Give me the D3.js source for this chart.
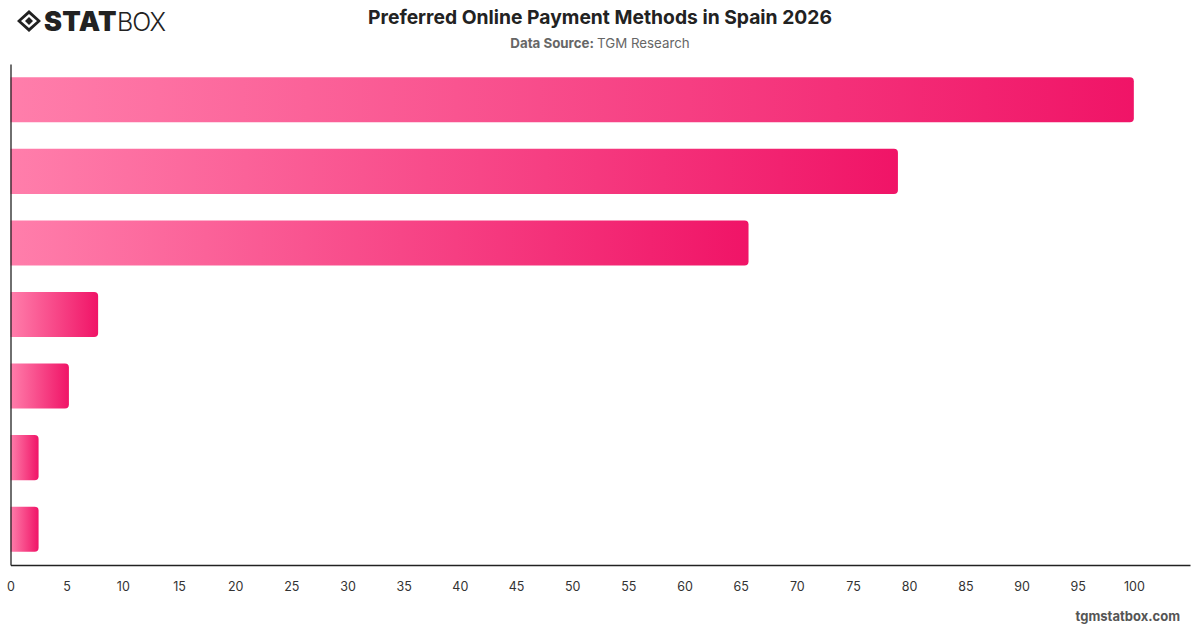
<!DOCTYPE html>
<html><head><meta charset="utf-8">
<script src="https://cdn.jsdelivr.net/npm/d3@7"></script>
<style>body{margin:0;background:#fff;font-family:Inter,"Noto Sans",sans-serif}</style>
</head><body>
<svg id="c" width="1200" height="628"></svg>
<script>
const categories = ["Digital wallets","Credit/debit cards","Bank transfer","Buy now, pay later","Cash on delivery","Prepaid cards","Other"];
const values = [100, 79, 65.7, 7.8, 5.2, 2.5, 2.5];
const xTicks = d3.range(0, 101, 5);

const svg = d3.select("#c");
const m = {left: 10.5, right: 1190, top: 64, bottom: 565};
const x = d3.scaleLinear().domain([0, 105]).range([m.left, m.right]);
const y = d3.scaleBand().domain(categories).range([m.top, m.bottom]).paddingInner(0.37).paddingOuter(0.185);

const defs = svg.append("defs");
const g = defs.append("linearGradient").attr("id","grad").attr("x1","0").attr("x2","1").attr("y1","0").attr("y2","0");
g.append("stop").attr("offset","0").attr("stop-color","#ff7eab");
g.append("stop").attr("offset","1").attr("stop-color","#f01467");

// logo
const logo = svg.append("g").attr("transform","translate(17,10)");
logo.append("path").attr("d","M12,0 L24,11 L12,22 L0,11 Z M12,4 L20,11 L12,18 L4,11 Z").attr("fill","#222").attr("fill-rule","evenodd");
logo.append("path").attr("d","M12,7 L16,11 L12,15 L8,11 Z").attr("fill","#222");
logo.append("text").attr("x",27).attr("y",21).attr("font-size",27).attr("font-weight",900).attr("fill","#222").attr("font-family","Inter,sans-serif").attr("letter-spacing","0.3").text("STAT");
logo.append("text").attr("x",100).attr("y",21).attr("font-size",25).attr("font-weight",300).attr("fill","#222").attr("font-family","Inter,sans-serif").attr("letter-spacing","-1").text("BOX");

svg.append("text").attr("x",600).attr("y",24).attr("text-anchor","middle").attr("font-size",19.3).attr("font-weight",700).attr("fill","#222").text("Preferred Online Payment Methods in Spain 2026");
const sub = svg.append("text").attr("x",600).attr("y",48).attr("text-anchor","middle").attr("font-size",13.3).attr("fill","#666");
sub.append("tspan").attr("font-weight",700).text("Data Source: ");
sub.append("tspan").text("TGM Research");

// bars
function barPath(x0, x1, y0, h, r){
  r = Math.min(r, (x1-x0)/2);
  return `M${x0},${y0} H${x1-r} Q${x1},${y0} ${x1},${y0+r} V${y0+h-r} Q${x1},${y0+h} ${x1-r},${y0+h} H${x0} Z`;
}
svg.append("g").selectAll("path").data(values).join("path")
  .attr("d",(d,i)=>barPath(x(0), x(d), y(categories[i]), y.bandwidth(), 4))
  .attr("fill","url(#grad)");

// axes
const xa = svg.append("g").attr("transform",`translate(0,${m.bottom})`)
  .call(d3.axisBottom(x).tickValues(xTicks).tickSize(0).tickPadding(17));
xa.select(".domain").attr("stroke","#222").attr("stroke-width",1.3);
xa.selectAll("text").attr("font-size",12.5).attr("fill","#333").attr("font-family","Inter,sans-serif");
const ya = svg.append("g").attr("transform",`translate(${m.left},0)`)
  .call(d3.axisLeft(y).tickSize(0).tickFormat(""));
ya.select(".domain").attr("stroke","#222").attr("stroke-width",1.3);

svg.append("text").attr("x",1180).attr("y",621).attr("text-anchor","end").attr("font-size",13).attr("font-weight",700).attr("fill","#555").text("tgmstatbox.com");
</script>
</body></html>
